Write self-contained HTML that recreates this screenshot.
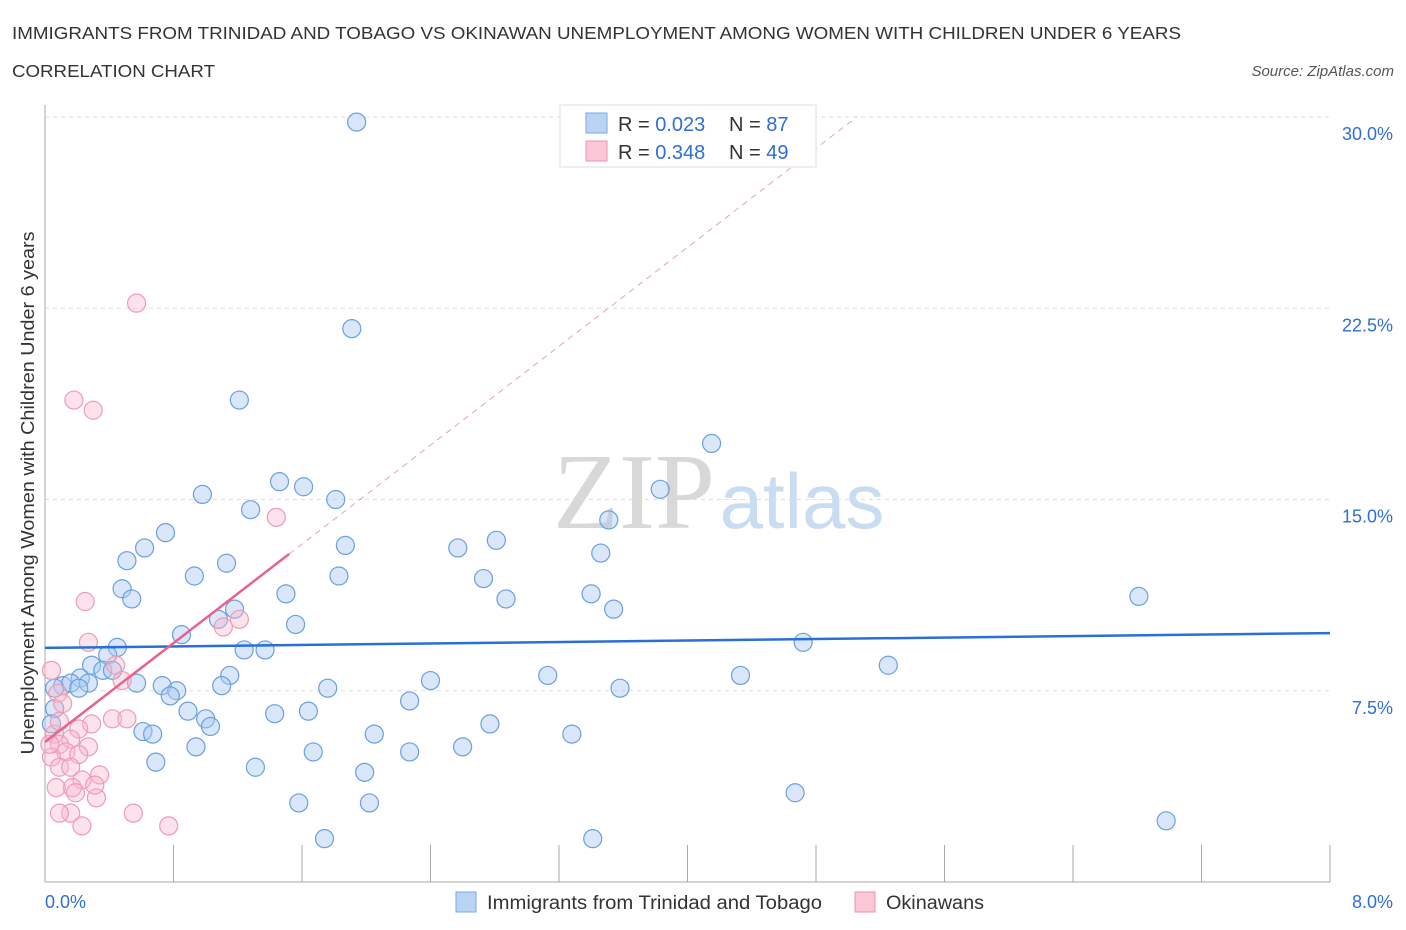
<!DOCTYPE html>
<html><head><meta charset="utf-8"><style>
body{margin:0;background:#fff;font-family:"Liberation Sans",sans-serif;}
svg{display:block}
</style></head><body>
<svg id="chart" width="1406" height="930">
<text x="12" y="39" font-size="17.5" fill="#333" textLength="1169" lengthAdjust="spacingAndGlyphs">IMMIGRANTS FROM TRINIDAD AND TOBAGO VS OKINAWAN UNEMPLOYMENT AMONG WOMEN WITH CHILDREN UNDER 6 YEARS</text>
<text x="12" y="77" font-size="17.5" fill="#333" textLength="203" lengthAdjust="spacingAndGlyphs">CORRELATION CHART</text>
<text x="1394" y="76" font-size="15" fill="#555" font-style="italic" text-anchor="end">Source: ZipAtlas.com</text>
<text x="634" y="528" font-size="108" fill="#d8d8d8" font-family="Liberation Serif,serif" text-anchor="middle">ZIP</text>
<text x="802" y="528" font-size="78" fill="#c9dcf2" text-anchor="middle">atlas</text>
<g id="grid"></g>
<g id="marks"></g>
<text transform="translate(34,493) rotate(-90)" font-size="18" fill="#333" text-anchor="middle" textLength="523" lengthAdjust="spacingAndGlyphs">Unemployment Among Women with Children Under 6 years</text>
<g>
<rect x="560" y="105" width="256" height="62" fill="#fff" stroke="#ddd"/>
<rect x="586" y="113" width="21" height="20" fill="#b9d3f5" stroke="#7aaae6"/>
<rect x="586" y="141" width="21" height="20" fill="#fbc6d6" stroke="#ee93ae"/>
<text x="618" y="131" font-size="20" fill="#333">R = <tspan fill="#2f6fd4">0.023</tspan><tspan x="729">N = </tspan><tspan fill="#2f6fd4">87</tspan></text>
<text x="618" y="159" font-size="20" fill="#333">R = <tspan fill="#2f6fd4">0.348</tspan><tspan x="729">N = </tspan><tspan fill="#2f6fd4">49</tspan></text>
</g>
<g>
<rect x="456" y="892" width="20" height="20" fill="#b9d3f5" stroke="#7aaae6"/>
<text x="487" y="909" font-size="19" fill="#333" textLength="335" lengthAdjust="spacingAndGlyphs">Immigrants from Trinidad and Tobago</text>
<rect x="855" y="892" width="20" height="20" fill="#fbc6d6" stroke="#ee93ae"/>
<text x="886" y="909" font-size="19" fill="#333" textLength="98" lengthAdjust="spacingAndGlyphs">Okinawans</text>
</g>
</svg>
<script>
const yTicks=[7.5,15,22.5,30];
const yTickLabels=["7.5%","15.0%","22.5%","30.0%"];
const xTickLabels=["0.0%","8.0%"];
const blueX=[1.94,1.91,1.21,4.15,0.98,1.46,1.61,1.81,1.28,3.83,3.51,0.75,0.62,0.51,1.87,2.57,2.81,3.46,1.13,0.93,1.83,2.73,0.48,0.54,1.50,2.87,3.40,3.54,6.81,1.18,1.08,1.56,0.85,0.45,0.39,1.37,1.24,4.72,5.25,1.15,3.13,4.33,2.40,0.29,0.36,0.42,0.22,0.11,0.16,0.06,0.27,0.21,0.57,0.73,0.82,1.10,1.76,3.58,0.78,0.89,1.00,1.03,1.43,1.64,2.27,2.77,0.06,0.61,0.67,2.05,3.28,0.94,1.67,2.27,2.60,0.69,1.31,1.99,4.67,1.58,2.02,1.74,3.41,6.98,0.04];
const blueY=[29.8,21.7,18.9,17.2,15.2,15.7,15.5,15.0,14.6,15.4,14.2,13.7,13.1,12.6,13.2,13.1,13.4,12.9,12.5,12.0,12.0,11.9,11.5,11.1,11.3,11.1,11.3,10.7,11.2,10.7,10.3,10.1,9.7,9.2,8.9,9.1,9.1,9.4,8.5,8.1,8.1,8.1,7.9,8.5,8.3,8.3,8.0,7.7,7.8,7.6,7.8,7.6,7.8,7.7,7.5,7.7,7.6,7.6,7.3,6.7,6.4,6.1,6.6,6.7,7.1,6.2,6.8,5.9,5.8,5.8,5.8,5.3,5.1,5.1,5.3,4.7,4.5,4.3,3.5,3.1,3.1,1.7,1.7,2.4,6.2];
const pinkX=[0.57,0.18,0.30,1.44,0.25,1.21,1.11,0.27,0.44,0.04,0.48,0.08,0.11,0.42,0.51,0.29,0.21,0.06,0.16,0.09,0.27,0.13,0.04,0.21,0.09,0.16,0.34,0.23,0.17,0.07,0.19,0.32,0.55,0.16,0.09,0.23,0.77,0.03,0.31,0.09];
const pinkY=[22.7,18.9,18.5,14.3,11.0,10.3,10.0,9.4,8.5,8.3,7.9,7.4,7.0,6.4,6.4,6.2,6.0,5.8,5.6,5.4,5.3,5.1,4.9,5.0,4.5,4.5,4.2,4.0,3.7,3.7,3.5,3.3,2.7,2.7,2.7,2.2,2.2,5.4,3.8,6.3];
const blueTrend=[9.18,9.76];
const pinkTrend=[5.49,4.85];
const NS="http://www.w3.org/2000/svg";
const X0=45,X1=1330,Y0=882;
const sx=v=>X0+v*(X1-X0)/8;
const sy=v=>Y0-v*(Y0-117)/30;
function mk(tag,attrs,parent){const e=document.createElementNS(NS,tag);for(const k in attrs)e.setAttribute(k,attrs[k]);parent.appendChild(e);return e;}
const grid=document.getElementById('grid'),marks=document.getElementById('marks'),svg=document.getElementById('chart');
yTicks.forEach((t,i)=>{
 const l=mk('line',{x1:X0,x2:X1,y1:sy(t),y2:sy(t),stroke:'#ddd','stroke-dasharray':'4,4'},grid);
 
 
 const tx=mk('text',{x:1393,y:sy(t)+23,'font-size':18,fill:'#2f6fd4','text-anchor':'end'},svg);
 tx.textContent=yTickLabels[i];
 
 
});
mk('line',{x1:X0,x2:X0,y1:105,y2:Y0,stroke:'#aaa'},grid);
mk('line',{x1:X0,x2:X1,y1:Y0,y2:Y0,stroke:'#aaa'},grid);
for(let i=0;i<=10;i++){const x=sx(i*0.8);const t=mk('line',{x1:x,x2:x,y1:845,y2:Y0,stroke:'#aaa'},grid);
 
 }
const xl0=mk('text',{x:45,y:908,'font-size':18,fill:'#2f6fd4'},svg);xl0.textContent=xTickLabels[0];


const xl1=mk('text',{x:1393,y:908,'font-size':18,fill:'#2f6fd4','text-anchor':'end'},svg);xl1.textContent=xTickLabels[1];


blueX.forEach((v,i)=>{const c=mk('circle',{cx:sx(v),cy:sy(blueY[i]),r:9,fill:'rgba(170,202,242,0.45)',stroke:'#6a9fe0','stroke-width':1.2},marks);
 
 });
pinkX.forEach((v,i)=>{const c=mk('circle',{cx:sx(v),cy:sy(pinkY[i]),r:9,fill:'rgba(248,186,204,0.4)',stroke:'#f09ab4','stroke-width':1.2},marks);
 
 });
const bt=mk('line',{x1:sx(0),y1:sy(blueTrend[0]),x2:sx(8),y2:sy(blueTrend[1]),stroke:'#2a6fd6','stroke-width':2.5},marks);


const pe=1.52,xEnd=(30-pinkTrend[0])/pinkTrend[1];
const pt=mk('line',{x1:sx(0),y1:sy(pinkTrend[0]),x2:sx(pe),y2:sy(pinkTrend[0]+pinkTrend[1]*pe),stroke:'#e8638c','stroke-width':2.5},marks);


const pd=mk('line',{x1:sx(pe),y1:sy(pinkTrend[0]+pinkTrend[1]*pe),x2:sx(xEnd),y2:sy(30),stroke:'#eaa0b6','stroke-width':1,'stroke-dasharray':'6,5'},marks);


</script>
</body></html>
